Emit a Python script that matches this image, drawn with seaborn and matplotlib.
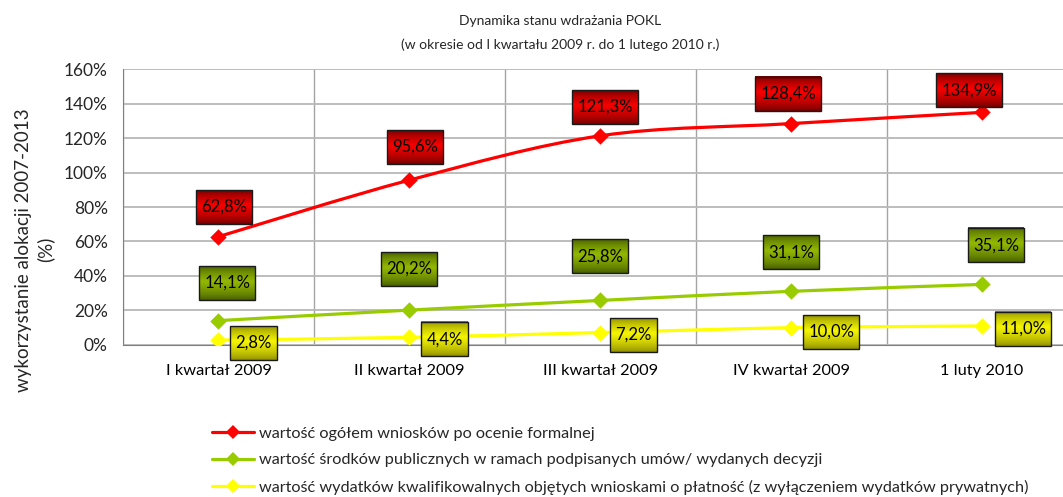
import numpy as np
import pandas as pd
import matplotlib
matplotlib.use("Agg")
import matplotlib.pyplot as plt
import seaborn as sns
from matplotlib.path import Path
from matplotlib.patches import PathPatch, Rectangle
from matplotlib.lines import Line2D
from matplotlib.colors import to_rgb

# Data
categories = ["I kwartał 2009", "II kwartał 2009", "III kwartał 2009", "IV kwartał 2009", "1 luty 2010"]
ogolem = [62.8, 95.6, 121.3, 128.4, 134.9]
srodki = [14.1, 20.2, 25.8, 31.1, 35.1]
wydatki = [2.8, 4.4, 7.2, 10.0, 11.0]
series_names = [
    "wartość ogółem wniosków po ocenie formalnej",
    "wartość środków publicznych w ramach podpisanych umów/ wydanych decyzji",
    "wartość wydatków kwalifikowalnych objętych wnioskami o płatność (z wyłączeniem wydatków prywatnych)",
]
yticks = [0, 20, 40, 60, 80, 100, 120, 140, 160]

sns.set_style("white")
plt.rcParams['font.family'] = ['Lato', 'DejaVu Sans']

line_colors = ["#ff0000", "#99cc00", "#ffff00"]
# box gradients: (dark edge, bright middle)
box_grad = [("#6e0000", "#f80000"), ("#455c00", "#93b800"), ("#8c8c00", "#f5f500")]

fig = plt.figure(figsize=(10.63, 4.97), dpi=100)
ax = fig.add_axes([0.1157, 0.306, 0.898, 0.555])

x = np.arange(len(categories))
values = [ogolem, srodki, wydatki]


def smooth_path(xs, ys):
    # Excel-like smoothed line as cubic bezier segments through the data points
    pts = np.column_stack([xs, ys]).astype(float)
    n = len(pts)
    verts = [pts[0]]
    codes = [Path.MOVETO]
    for i in range(n - 1):
        p0 = pts[i - 1] if i > 0 else pts[i]
        p1, p2 = pts[i], pts[i + 1]
        p3 = pts[i + 2] if i + 2 < n else pts[i + 1]
        c1 = p1 + (p2 - p0) / 6.0
        c2 = p2 - (p3 - p1) / 6.0
        verts += [c1, c2, p2]
        codes += [Path.CURVE4] * 3
    return Path(verts, codes)


for vals, col in zip(values, line_colors):
    ax.add_patch(PathPatch(smooth_path(x, vals), facecolor="none", edgecolor=col,
                           lw=2.3, zorder=3, capstyle="round"))
    df = pd.DataFrame({"x": x, "y": vals})
    sns.scatterplot(data=df, x="x", y="y", marker="D", s=70, color=col,
                    edgecolor=col, linewidth=0, ax=ax, zorder=4)

ax.set_xlim(-0.5, 4.5)
ax.set_ylim(0, 160)
ax.set_yticks(yticks)
ax.set_yticklabels([f"{v}%" for v in yticks])
ax.set_xticks(x)
ax.set_xticklabels(categories)
ax.set_xticks(np.arange(-0.5, 5, 1), minor=True)
ax.tick_params(axis="x", which="major", length=0, pad=14, labelsize=11.8, colors="black")
ax.tick_params(axis="x", which="minor", length=5, direction="out", color="#808080")
ax.tick_params(axis="y", length=5, direction="out", color="#808080", labelsize=12.5, pad=6)
ax.grid(axis="y", which="major", color="#b8b8b8", lw=1.3)
ax.grid(axis="x", which="minor", color="#a4a4a4", lw=1.0)
ax.set_axisbelow(True)
for side in ["top", "right"]:
    ax.spines[side].set_visible(False)
ax.spines["left"].set_color("#808080")
ax.spines["bottom"].set_color("#808080")
ax.set_xlabel("")
ax.set_ylabel("wykorzystanie alokacji 2007-2013\n(%)", fontsize=13.5, linespacing=1.3)
ax.yaxis.set_label_coords(-0.072, 0.345)

fig.text(0.527, 0.958, "Dynamika stanu wdrażania POKL", ha="center", va="center", fontsize=10)
fig.text(0.527, 0.91, "(w okresie od I kwartału 2009 r. do 1 lutego 2010 r.)", ha="center", va="center", fontsize=10)

# label placement: pixel offsets of the box edge from the point
BOX_H = 34
PAD_X = 5
label_offsets = [
    [(6, 13), (6, 16), (5, 12), (-3, 13), (-13, 5)],
    [(9, 21), (0, 24), (0, 27), (0, 22), (14, 22)],
    [(12, -3), (12, -2), (10, -2), (12, -4), (13, -3)],
]
texts = []
for si, vals in enumerate(values):
    for i, v in enumerate(vals):
        dx, dy = label_offsets[si][i]
        if si == 2:
            ha, off = "left", (dx + PAD_X, dy)
        else:
            ha, off = "center", (dx, dy + BOX_H / 2)
        t = ax.annotate(f"{v:.1f}%".replace(".", ","), (x[i], v), xytext=off,
                        textcoords="offset pixels", ha=ha, va="center",
                        fontsize=12, color="black", zorder=8)
        texts.append((t, si, off[1], v, i))

# gradient boxes behind the labels
fig.canvas.draw()
inv = ax.transData.inverted()
for t, si, oy, v, i in texts:
    bb = t.get_window_extent()
    py = ax.transData.transform((x[i], v))[1] + oy
    x0, y0 = inv.transform((bb.x0 - PAD_X, py - BOX_H / 2))
    x1, y1 = inv.transform((bb.x1 + PAD_X, py + BOX_H / 2))
    dark, bright = np.array(to_rgb(box_grad[si][0])), np.array(to_rgb(box_grad[si][1]))
    pos = np.linspace(0, 1, 64)
    w = np.where(pos < 0.45, pos / 0.45, 1 - (pos - 0.45) / 0.55)
    w = np.clip(w, 0, 1) ** 0.7
    grad = dark[None, :] * (1 - w[:, None]) + bright[None, :] * w[:, None]
    img = np.repeat(grad[:, None, :], 4, axis=1)
    ax.imshow(img, extent=[x0, x1, y0, y1], aspect="auto", interpolation="bilinear",
              zorder=6, clip_on=False)
    ax.add_patch(Rectangle((x0, y0), x1 - x0, y1 - y0, facecolor="none",
                           edgecolor="#1a1a1a", lw=1.0, zorder=7, clip_on=False))
ax.set_xlim(-0.5, 4.5)
ax.set_ylim(0, 160)

handles = [Line2D([0], [0], color=c, lw=2.3, marker="D", markersize=7, markeredgewidth=0)
           for c in line_colors]
fig.legend(handles, series_names, loc="upper left", bbox_to_anchor=(0.193, 0.155),
           frameon=False, fontsize=11.7, handlelength=2.6, handletextpad=0.3,
           labelspacing=0.75, borderaxespad=0)

fig.savefig("out.png", dpi=100)
